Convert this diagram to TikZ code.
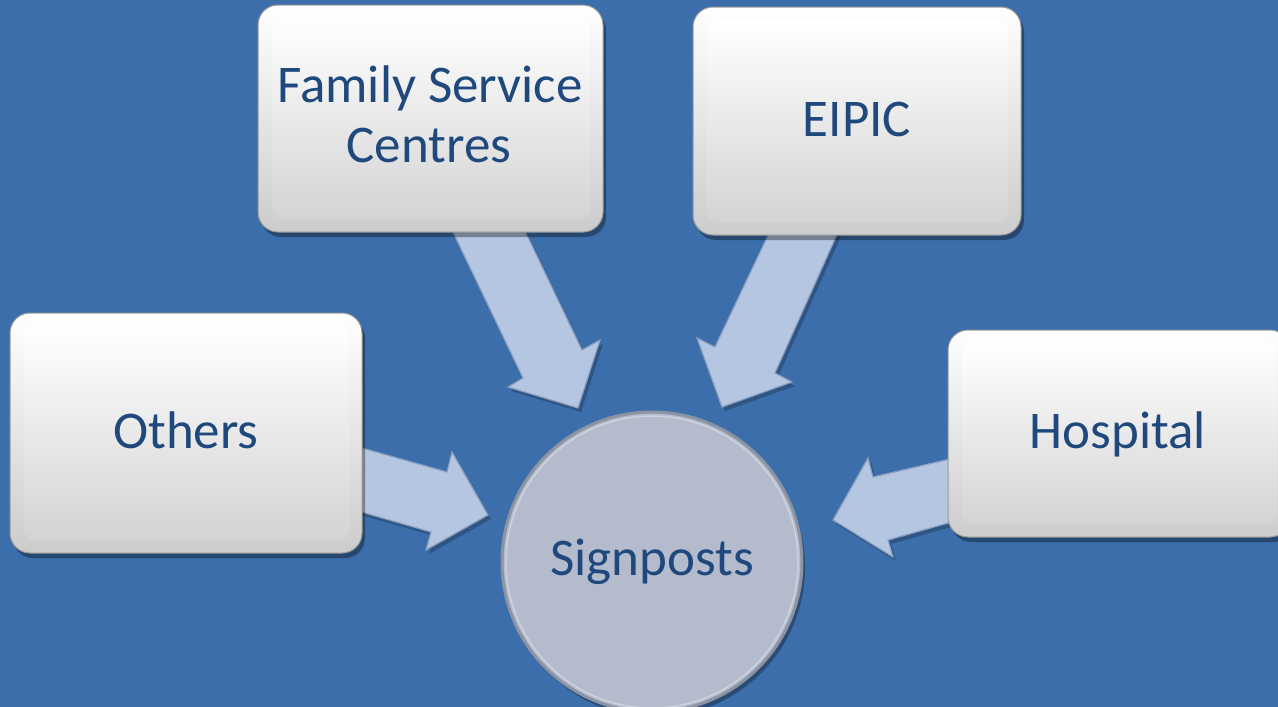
\documentclass[tikz,border=0pt]{standalone}
\usepackage{fontspec}
\setmainfont{Carlito}
\definecolor{bg}{RGB}{59,110,170}
\definecolor{txtblue}{RGB}{31,73,125}
\definecolor{arrowfill}{RGB}{181,198,226}
\definecolor{arrowedge}{RGB}{140,158,190}
\definecolor{circfill}{RGB}{179,187,204}
\definecolor{circedge}{RGB}{140,148,164}
\definecolor{circrim}{RGB}{205,211,222}
\tikzset{
  lbl/.style={text=txtblue, anchor=base, inner sep=0pt, font=\fontsize{53}{60}\selectfont},
  blockarrow/.style={fill=arrowfill, draw=arrowedge, line width=1.2pt, line join=miter},
  arrowshadow/.style={fill=black, opacity=0.22},
  boxshadow/.style={fill=black, opacity=0.35, rounded corners=20pt},
  boxouter/.style={top color=white, middle color=white!97!black, bottom color=black!20, draw=black!40, line width=1pt, rounded corners=20pt},
  boxinner/.style={top color=white, middle color=white, bottom color=black!17, rounded corners=10pt}
}
\newcommand\bevelbox[4]{%
  \fill[boxshadow] (#1+3,#2+5) rectangle (#3+3,#4+5);
  \shade[boxouter] (#1,#2) rectangle (#3,#4);
  \shade[boxinner] (#1+14,#2+13) rectangle (#3-13,#4-13);
}
\begin{document}
\begin{tikzpicture}[x=1pt,y=-1pt]
\useasboundingbox (0,0) rectangle (1278,707);
\fill[bg] (0,0) rectangle (1278,707);

% circle shadow
\fill[black, opacity=0.3] (655,567) circle (150);

% arrows (shadows first)
\begin{scope}[shift={(3,4)}]
\fill[arrowshadow] (439,203) -- (523,378) -- (508,387) -- (578,408) -- (600,340) -- (582,350) -- (514,208) -- cycle;
\fill[arrowshadow] (780,210) -- (715,347) -- (697,338) -- (722,407) -- (792,382) -- (775,373) -- (848,210) -- cycle;
\fill[arrowshadow] (330,439) -- (447,472) -- (452,452) -- (488,515) -- (426,550) -- (431,532) -- (330,503) -- cycle;
\fill[arrowshadow] (980,452) -- (873,477) -- (868,458) -- (833,520) -- (893,557) -- (888,540) -- (980,514) -- cycle;
\end{scope}
\filldraw[blockarrow] (439,203) -- (523,378) -- (508,387) -- (578,408) -- (600,340) -- (582,350) -- (514,208) -- cycle;
\filldraw[blockarrow] (780,210) -- (715,347) -- (697,338) -- (722,407) -- (792,382) -- (775,373) -- (848,210) -- cycle;
\filldraw[blockarrow] (330,439) -- (447,472) -- (452,452) -- (488,515) -- (426,550) -- (431,532) -- (330,503) -- cycle;
\filldraw[blockarrow] (980,452) -- (873,477) -- (868,458) -- (833,520) -- (893,557) -- (888,540) -- (980,514) -- cycle;

% centre circle
\node[circle, minimum size=300pt, inner sep=0pt, fill=circfill, draw=circedge, line width=3pt,
      text=txtblue, font=\fontsize{53}{60}\selectfont] (sig) at (652,562) {Signposts};
\draw[circrim, line width=1.5pt] (652,562) circle (146);

% boxes
\bevelbox{258}{5}{603}{232}
\bevelbox{693}{7}{1021}{235}
\bevelbox{10}{313}{362}{553}
\bevelbox{948}{330}{1290}{537}

\node[lbl] (fsc1) at (430,102) {Family Service};
\node[lbl] (fsc2) at (429,162) {Centres};
\node[lbl] (eipic) at (857,136) {EIPIC};
\node[lbl] (others) at (186,448) {Others};
\node[lbl] (hosp) at (1118,448) {Hospital};
\end{tikzpicture}
\end{document}
